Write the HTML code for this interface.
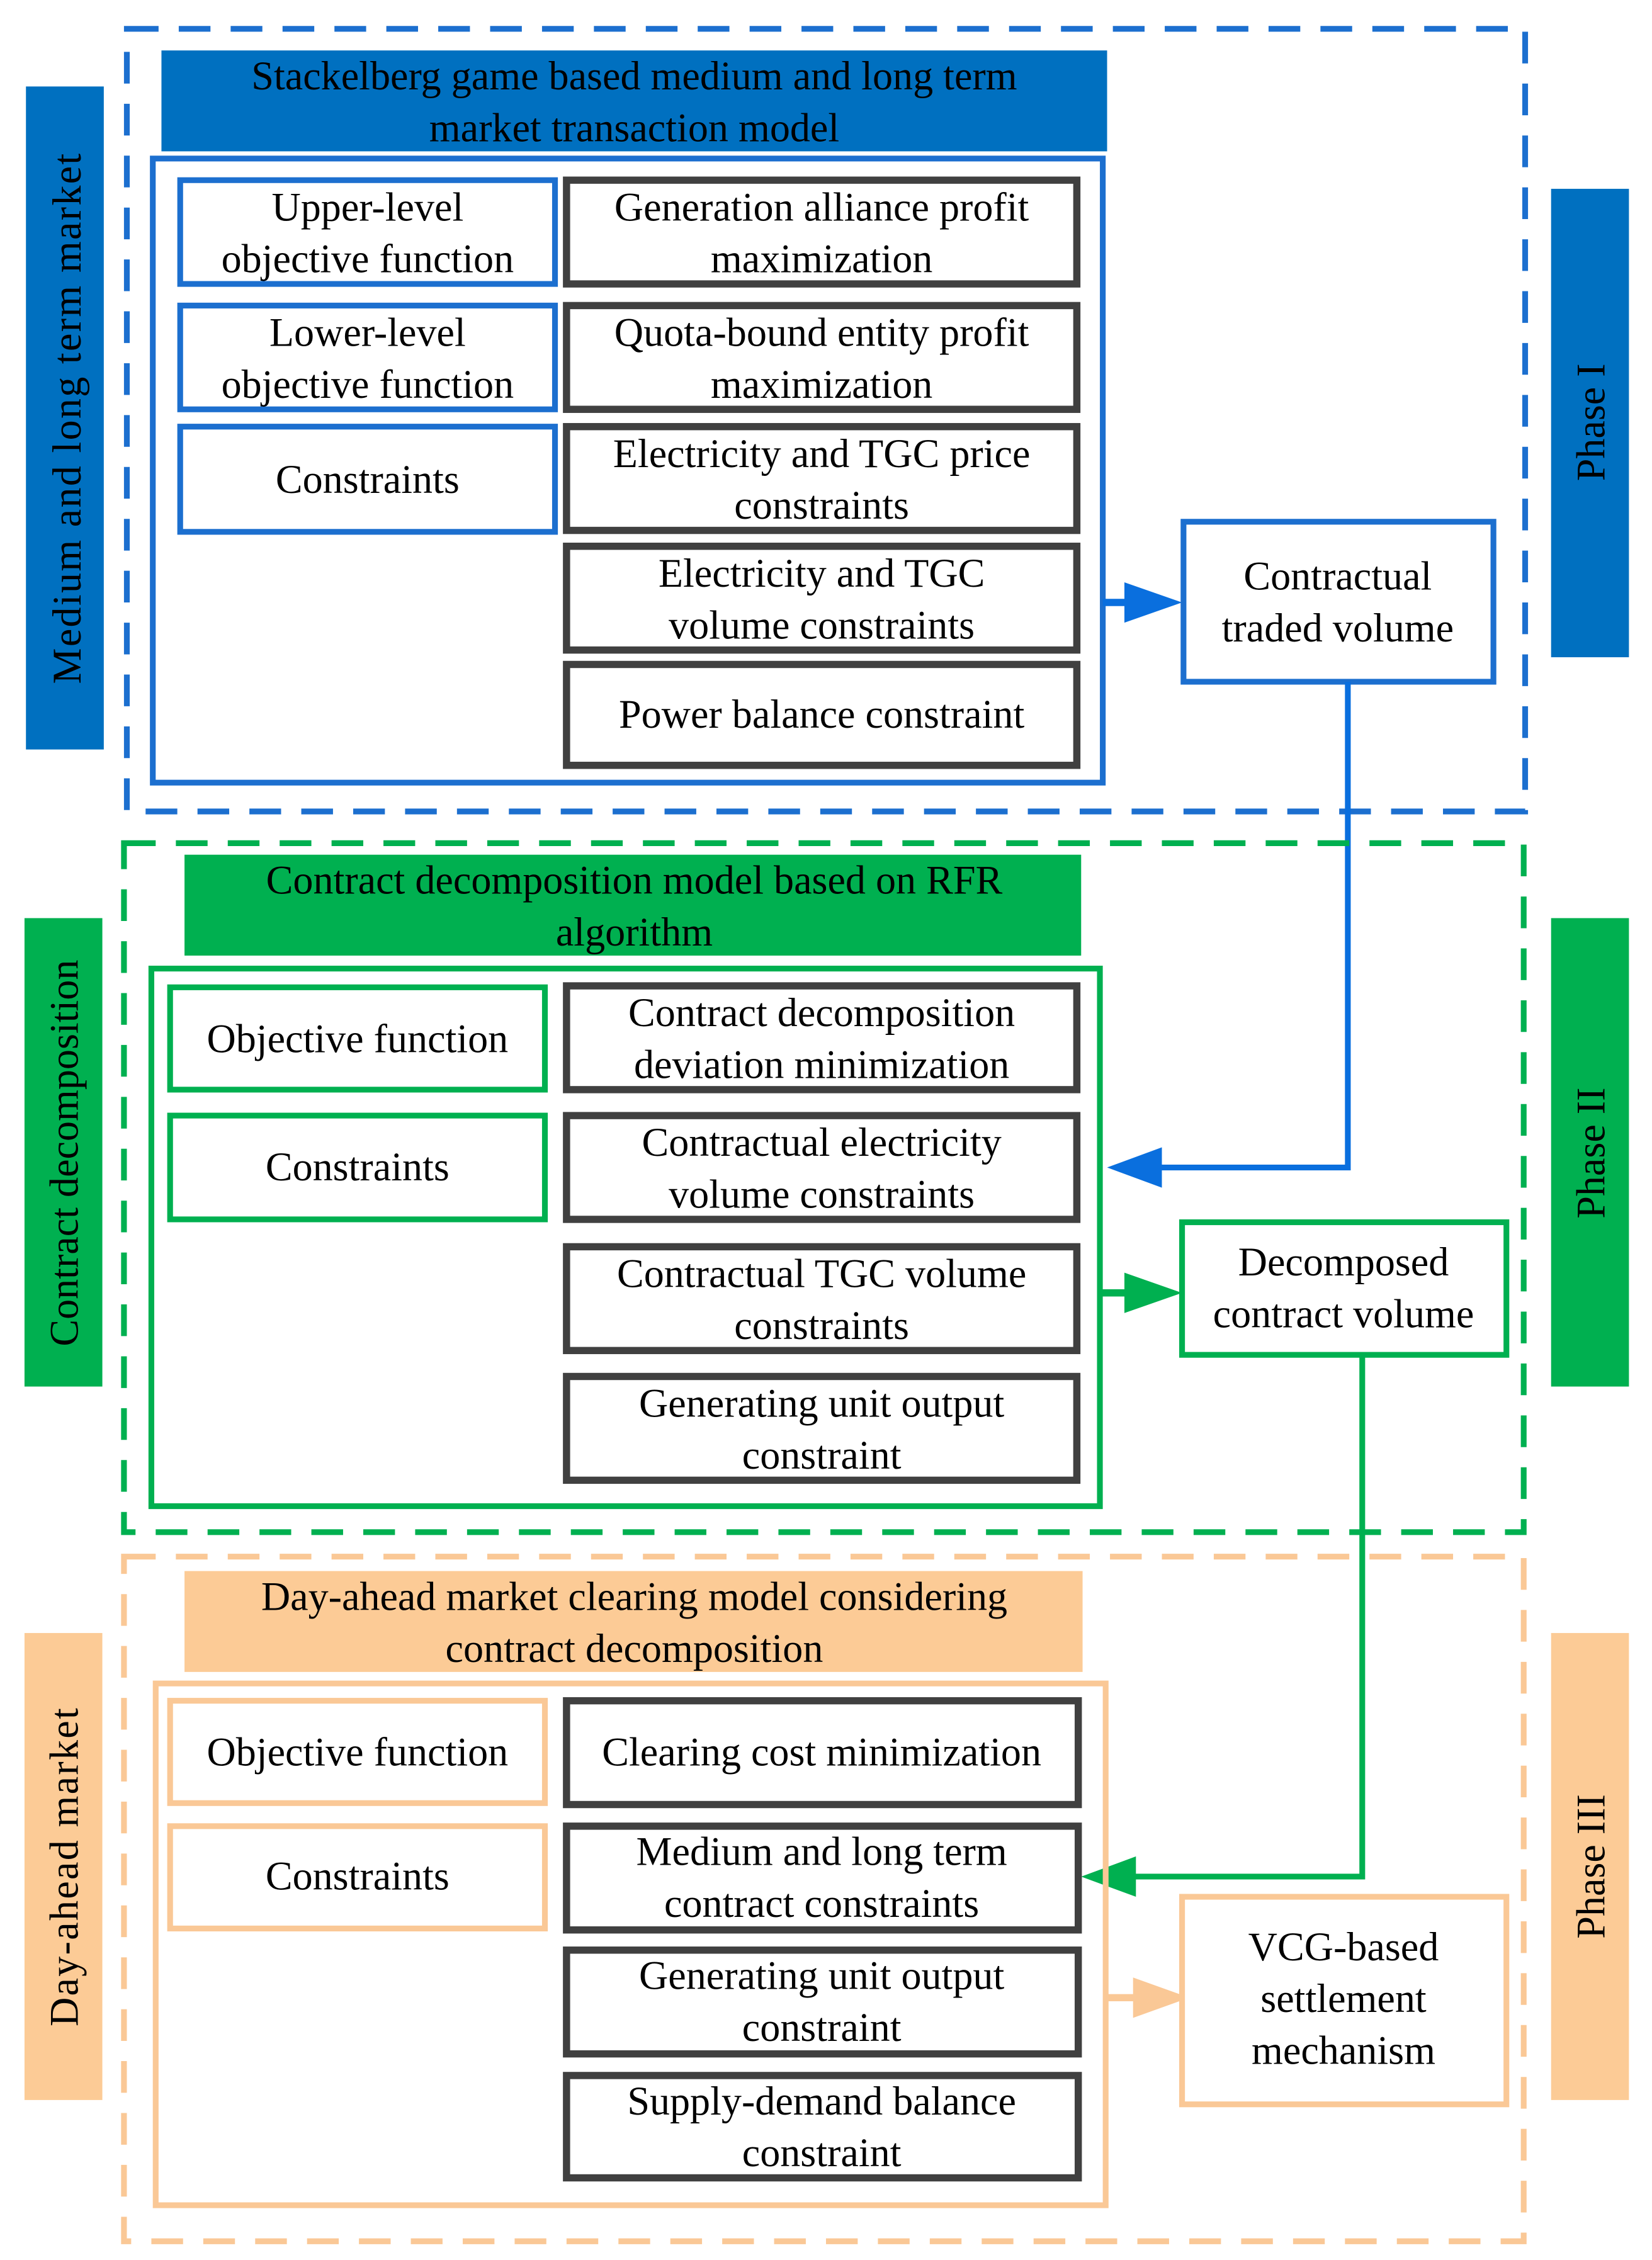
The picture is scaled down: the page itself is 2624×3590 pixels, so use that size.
<!DOCTYPE html>
<html><head><meta charset="utf-8"><style>
html,body{margin:0;padding:0;background:#fff;}
svg{display:block;}
text{font-family:"Liberation Serif","Times New Roman",serif;font-size:28px;fill:#000;text-anchor:middle;}
</style></head><body>
<svg width="2624" height="3590" viewBox="0 0 1146 1568" preserveAspectRatio="none" xmlns="http://www.w3.org/2000/svg">
<rect width="1146" height="1568" fill="#fff"/>
<!-- Phase I -->
<rect x="88" y="20" width="970" height="543" fill="none" stroke="#1c6fcf" stroke-width="4" stroke-dasharray="22 14"/>
<rect x="112" y="35" width="656" height="70" fill="#0070C0"/>
<text x="440" y="62">Stackelberg game based medium and long term</text>
<text x="440" y="98">market transaction model</text>
<rect x="106" y="110" width="659" height="433" fill="none" stroke="#1c6fcf" stroke-width="4"/>
<g fill="#fff" stroke="#1c6fcf" stroke-width="4">
<rect x="125" y="125" width="260" height="72"/><rect x="125" y="212" width="260" height="72"/><rect x="125" y="296" width="260" height="73"/>
</g>
<g fill="#fff" stroke="#404040" stroke-width="5">
<rect x="393" y="125" width="354" height="72"/><rect x="393" y="212" width="354" height="72"/><rect x="393" y="296" width="354" height="72"/><rect x="393" y="379" width="354" height="72"/><rect x="393" y="461" width="354" height="70"/>
</g>
<text x="255" y="153">Upper-level</text><text x="255" y="189">objective function</text>
<text x="255" y="240">Lower-level</text><text x="255" y="276">objective function</text>
<text x="255" y="342">Constraints</text>
<text x="570" y="153">Generation alliance profit</text><text x="570" y="189">maximization</text>
<text x="570" y="240">Quota-bound entity profit</text><text x="570" y="276">maximization</text>
<text x="570" y="324">Electricity and TGC price</text><text x="570" y="360">constraints</text>
<text x="570" y="407">Electricity and TGC</text><text x="570" y="443">volume constraints</text>
<text x="570" y="505">Power balance constraint</text>
<line x1="765" y1="418" x2="782" y2="418" stroke="#0a6fde" stroke-width="5"/>
<polygon points="780,404 820,418 780,432" fill="#0a6fde"/>
<rect x="821" y="362" width="215" height="111" fill="#fff" stroke="#1c6fcf" stroke-width="4"/>
<text x="928" y="409">Contractual</text><text x="928" y="445">traded volume</text>
<rect x="18" y="60" width="54" height="460" fill="#0070C0"/>
<text transform="translate(56,290) rotate(-90)" letter-spacing="1">Medium and long term market</text>
<rect x="1076" y="131" width="54" height="325" fill="#0070C0"/>
<text transform="translate(1113,293) rotate(-90)">Phase I</text>
<polyline points="935,473 935,810 800,810" fill="none" stroke="#0a6fde" stroke-width="4"/>
<polygon points="806,796 768,810 806,824" fill="#0a6fde"/>
<!-- Phase II -->
<rect x="86" y="585" width="971" height="478" fill="none" stroke="#00B050" stroke-width="4" stroke-dasharray="22 14"/>
<rect x="128" y="593" width="622" height="70" fill="#00B050"/>
<text x="440" y="620">Contract decomposition model based on RFR</text>
<text x="440" y="656">algorithm</text>
<rect x="105" y="672" width="658" height="373" fill="none" stroke="#00B050" stroke-width="4"/>
<g fill="#fff" stroke="#00B050" stroke-width="4">
<rect x="118" y="685" width="260" height="71"/><rect x="118" y="774" width="260" height="72"/>
</g>
<g fill="#fff" stroke="#404040" stroke-width="5">
<rect x="393" y="684" width="354" height="72"/><rect x="393" y="774" width="354" height="72"/><rect x="393" y="865" width="354" height="72"/><rect x="393" y="955" width="354" height="72"/>
</g>
<text x="248" y="730">Objective function</text>
<text x="248" y="819">Constraints</text>
<text x="570" y="712">Contract decomposition</text><text x="570" y="748">deviation minimization</text>
<text x="570" y="802">Contractual electricity</text><text x="570" y="838">volume constraints</text>
<text x="570" y="893">Contractual TGC volume</text><text x="570" y="929">constraints</text>
<text x="570" y="983">Generating unit output</text><text x="570" y="1019">constraint</text>
<line x1="763" y1="897" x2="782" y2="897" stroke="#00B050" stroke-width="5"/>
<polygon points="780,883 820,897 780,911" fill="#00B050"/>
<rect x="820" y="848" width="225" height="92" fill="#fff" stroke="#00B050" stroke-width="4"/>
<text x="932" y="885">Decomposed</text><text x="932" y="921">contract volume</text>
<rect x="17" y="637" width="54" height="325" fill="#00B050"/>
<text transform="translate(54,800) rotate(-90)">Contract decomposition</text>
<rect x="1076" y="637" width="54" height="325" fill="#00B050"/>
<text transform="translate(1113,800) rotate(-90)">Phase  II</text>
<polyline points="945,940 945,1302 785,1302" fill="none" stroke="#00B050" stroke-width="4"/>
<polygon points="788,1288 750,1302 788,1316" fill="#00B050"/>
<!-- Phase III -->
<rect x="86" y="1080" width="971" height="475" fill="none" stroke="#FAC896" stroke-width="4" stroke-dasharray="22 14"/>
<rect x="128" y="1090" width="623" height="70" fill="#FCCB96"/>
<text x="440" y="1117">Day-ahead market clearing model considering</text>
<text x="440" y="1153">contract decomposition</text>
<rect x="108" y="1168" width="659" height="362" fill="none" stroke="#FAC896" stroke-width="4"/>
<g fill="#fff" stroke="#FAC896" stroke-width="4">
<rect x="118" y="1180" width="260" height="71"/><rect x="118" y="1267" width="260" height="71"/>
</g>
<g fill="#fff" stroke="#404040" stroke-width="5">
<rect x="393" y="1180" width="355" height="72"/><rect x="393" y="1267" width="355" height="72"/><rect x="393" y="1353" width="355" height="72"/><rect x="393" y="1440" width="355" height="71"/>
</g>
<text x="248" y="1225">Objective function</text>
<text x="248" y="1311">Constraints</text>
<text x="570" y="1225">Clearing cost minimization</text>
<text x="570" y="1294">Medium and long term</text><text x="570" y="1330">contract constraints</text>
<text x="570" y="1380">Generating unit output</text><text x="570" y="1416">constraint</text>
<text x="570" y="1467">Supply-demand balance</text><text x="570" y="1503">constraint</text>
<line x1="767" y1="1386" x2="788" y2="1386" stroke="#FAC896" stroke-width="5"/>
<polygon points="786,1372 825,1386 786,1400" fill="#FAC896"/>
<rect x="820" y="1316" width="225" height="144" fill="#fff" stroke="#FAC896" stroke-width="4"/>
<text x="932" y="1360">VCG-based</text><text x="932" y="1396">settlement</text><text x="932" y="1432">mechanism</text>
<rect x="17" y="1133" width="54" height="324" fill="#FCCB96"/>
<text transform="translate(54,1295) rotate(-90)" letter-spacing="1">Day-ahead market</text>
<rect x="1076" y="1133" width="54" height="324" fill="#FCCB96"/>
<text transform="translate(1113,1295) rotate(-90)">Phase  III</text>
</svg>
</body></html>
